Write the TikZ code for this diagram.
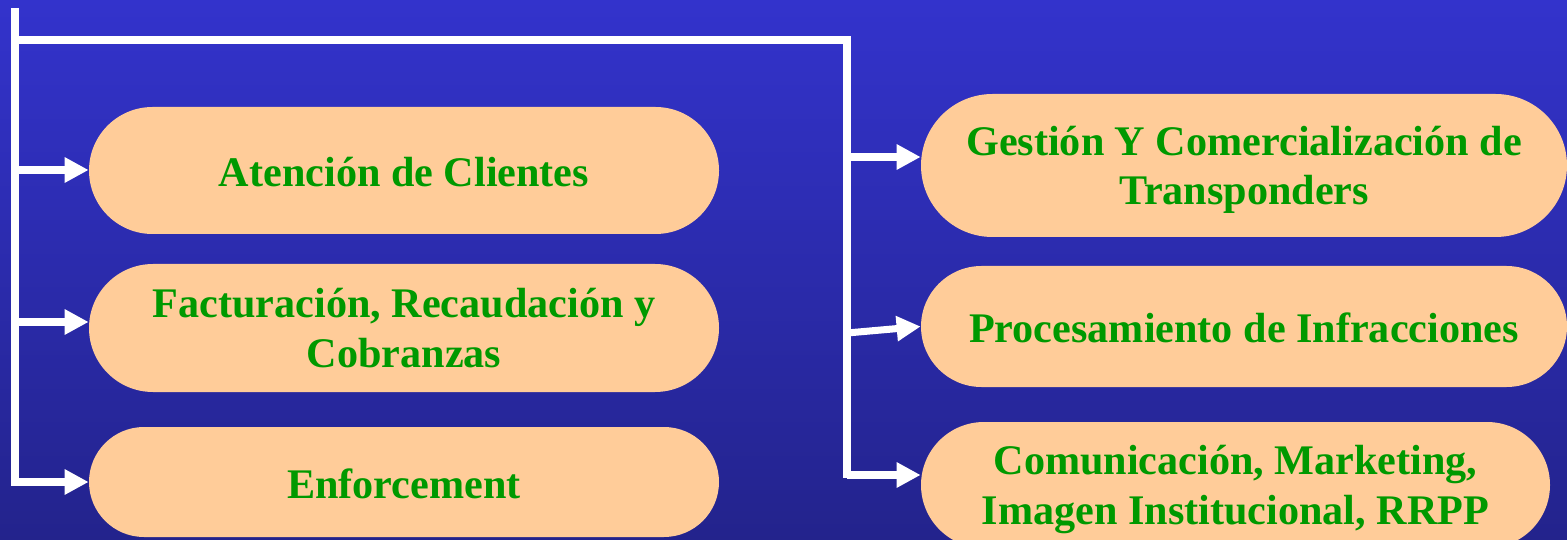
\documentclass[tikz,border=0pt]{standalone}
\usepackage{fontspec}
\setmainfont{Liberation Serif}
\usetikzlibrary{arrows.meta}
\definecolor{peach}{HTML}{FFCC99}
\definecolor{leafgreen}{HTML}{009900}
\definecolor{bgtop}{HTML}{3333CC}
\definecolor{bgmid}{HTML}{2F2FBC}
\definecolor{bgbot}{HTML}{23238C}
\tikzset{
  area/.style={fill=peach, text=leafgreen, align=center, inner sep=0pt,
    text depth=0pt, text height=0.64cm,
    font=\fontsize{24}{28.45}\selectfont\bfseries},
  twoline/.style={text height=1.58cm},
  wire/.style={white, line width=4pt},
  link/.style={wire, -{Triangle[length=0.48cm,width=0.48cm]}}
}
\begin{document}
\begin{tikzpicture}
	\useasboundingbox (0,0) rectangle (31.34,-10.8) ;
	\shade[top color=bgtop, middle color=bgmid, bottom color=bgbot] (0,0) rectangle (31.34,-10.8) ;
	% left column
		\node (l1)[area, minimum width=12.6cm, minimum height=2.54cm, rounded corners=1.27cm] at (8.08,-3.41) {Atención de Clientes} ; 
		\node (l2)[area, twoline, minimum width=12.6cm, minimum height=2.56cm, rounded corners=1.28cm] at (8.08,-6.56) {Facturación, Recaudación y\\Cobranzas} ; 
		\node (l3)[area, minimum width=12.6cm, minimum height=2.2cm, rounded corners=1.1cm] at (8.08,-9.64) {Enforcement} ; 
	% right column
		\node (r1)[area, twoline, minimum width=12.92cm, minimum height=2.86cm, rounded corners=1.43cm] at (24.88,-3.31) {Gestión Y Comercialización de\\Transponders} ; 
		\node (r2)[area, minimum width=12.92cm, minimum height=2.42cm, rounded corners=1.21cm] at (24.88,-6.53) {Procesamiento de Infracciones} ; 
		\node (r3)[area, twoline, minimum width=12.58cm, minimum height=2.52cm, rounded corners=1.26cm] at (24.71,-9.7) {Comunicación, Marketing,\\Imagen Institucional, RRPP} ; 
	% spines
        \coordinate (ltop) at (0.3,-0.16) ;
        \coordinate (lknee) at (0.3,-0.8) ;
        \coordinate (lbot) at (0.3,-9.72) ;
        \coordinate (rtop) at (16.94,-0.8) ;
        \coordinate (rbot) at (16.94,-9.56) ;
	\draw[wire] (ltop) -- (lbot) ;
	\draw[wire] (lknee) -- (rtop) -- (rbot) ;
	% arrows
        \coordinate (la1) at (0.3,-3.4) ;
        \coordinate (la2) at (0.3,-6.44) ;
        \coordinate (la3) at (0.3,-9.64) ;
        \coordinate (ra1) at (16.94,-3.14) ;
        \coordinate (ra2) at (16.94,-6.66) ;
        \coordinate (ra3) at (16.94,-9.5) ;
	\draw[link] (la1) -- (la1 -| l1.west) ;
	\draw[link] (la2) -- (la2 -| l2.west) ;
	\draw[link] (la3) -- (la3 -| l3.west) ;
	\draw[link] (ra1) -- (ra1 -| r1.west) ;
	\draw[link] (ra2) -- (r2.west) ;
	\draw[link] (ra3) -- (ra3 -| r3.west) ;
\end{tikzpicture}
\end{document}
